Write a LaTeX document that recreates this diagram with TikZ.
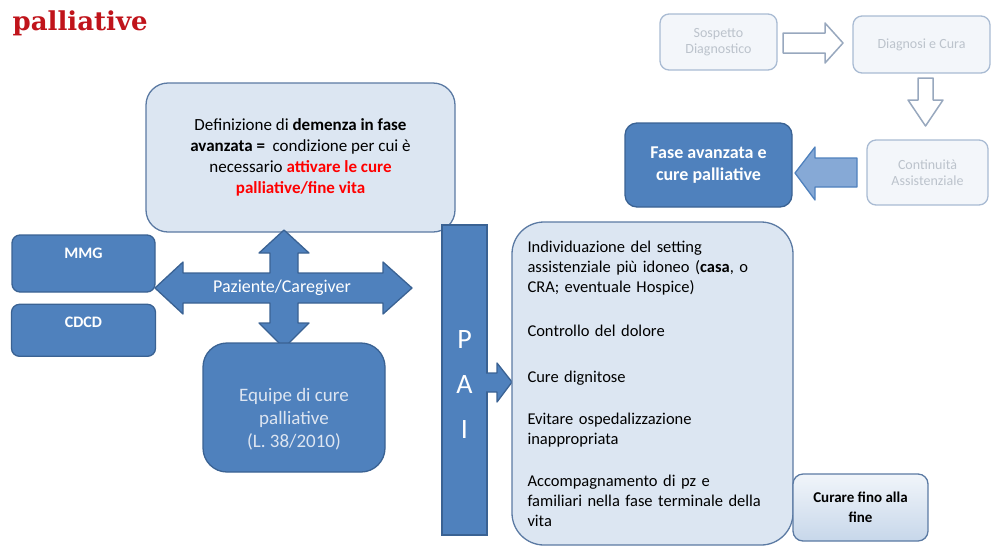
\documentclass[tikz,border=0pt]{standalone}
\usepackage{fontspec}
\setmainfont{Carlito}
\newfontfamily\titlefont{DejaVu Serif}
\usetikzlibrary{positioning}
\definecolor{boxblue}{HTML}{4F81BD}
\definecolor{boxline}{HTML}{3A6293}
\definecolor{lightfill}{HTML}{DCE6F2}
\definecolor{lightline}{HTML}{5B7AA3}
\definecolor{fadefill}{HTML}{F3F6FA}
\definecolor{fadeline}{HTML}{A9BBD3}
\definecolor{fadetext}{HTML}{BCC3CC}
\definecolor{arrowfill}{HTML}{86A9D6}
\definecolor{titlered}{HTML}{C0141B}
\definecolor{equipetext}{HTML}{DDE5F1}

\begin{document}
\begin{tikzpicture}[x=1pt, y=-1pt, line width=1.3pt,
    darkbox/.style = {draw=boxline, fill=boxblue, rounded corners=8pt, text=white, inner sep=0pt},
    lightbox/.style = {draw=lightline, fill=lightfill, rounded corners=22pt, inner sep=0pt},
    fadebox/.style = {draw=fadeline, fill=fadefill, rounded corners=9pt, text=fadetext,
        align=center, inner sep=0pt, font=\fontsize{14}{16}\selectfont},
    hollowarrow/.style = {draw=fadeline!90!black, fill=white, line width=1.5pt, line join=round},
    bluearrow/.style = {draw=boxline, fill=boxblue, line join=round}]
    \useasboundingbox (0,0) rectangle (992,550);

    % Titolo
    \node[anchor=base west, inner sep=0pt, text=titlered,
        font=\titlefont\bfseries\fontsize{26}{30}\selectfont] (titolo) at (12,30) {palliative};

    % Percorso in alto a destra
    \node[fadebox, minimum width=117pt, minimum height=56pt] (sosp) at (718.5,42) {Sospetto\\Diagnostico};
    \node[fadebox, minimum width=137pt, minimum height=57pt] (diag) at (921.5,44.5) {Diagnosi e Cura};
    \node[fadebox, minimum width=121pt, minimum height=65pt] (cont) at (927.5,172.5) {Continuità\\Assistenziale};
    \node[darkbox, rounded corners=12pt, minimum width=167pt, minimum height=84pt, align=center,
        font=\bfseries\fontsize{18}{22}\selectfont] (fase) at (708.5,165) {Fase avanzata e\\cure palliative};

    \draw[hollowarrow] (783,33) -- (825,33) -- (825,23) -- (843,43) -- (825,63) -- (825,53) -- (783,53) -- cycle;
    \draw[hollowarrow] (918,78) -- (933,78) -- (933,100) -- (943,100) -- (925.5,126) -- (908,100) -- (918,100) -- cycle;
    \draw[draw=boxblue, fill=arrowfill, line join=round] (857,158) -- (815,158) -- (815,147) -- (795,173)
        -- (815,200) -- (815,187) -- (857,187) -- cycle;

    % Definizione
    \node[lightbox, minimum width=309pt, minimum height=149pt, align=center,
        font=\fontsize{17}{21}\selectfont] (def) at (300.5,157.5)
        {Definizione di \textbf{demenza in fase}\\
         \textbf{avanzata =}\ \ condizione per cui è\\
         necessario \textcolor{red}{\textbf{attivare le cure}}\\
         \textcolor{red}{\textbf{palliative/fine vita}}};

    % Attori
    \node[darkbox, minimum width=143pt, minimum height=57pt,
        label={[text=white, font=\bfseries\fontsize{16}{19}\selectfont, yshift=10pt]center:MMG}] (mmg) at (83.5,263.5) {};
    \node[darkbox, minimum width=144pt, minimum height=52pt, below=11pt of mmg,
        label={[text=white, font=\bfseries\fontsize{16}{19}\selectfont, yshift=8pt]center:CDCD}] (cdcd) {};

    % Paziente/Caregiver
    \coordinate (pc) at (284,288);
    \draw[bluearrow, shift={(pc)}] (0,-58) -- (25,-35) -- (14,-35) -- (14,-15) -- (99,-15) -- (99,-26)
        -- (128,0) -- (99,26) -- (99,15) -- (14,15) -- (14,35) -- (25,35) -- (0,60) -- (-25,35)
        -- (-14,35) -- (-14,15) -- (-101,15) -- (-101,26) -- (-129,0) -- (-101,-26) -- (-101,-15)
        -- (-14,-15) -- (-14,-35) -- (-25,-35) -- cycle;
    \node[text=white, font=\fontsize{18}{20}\selectfont] (paz) at (282,288) {Paziente/Caregiver};

    \node[darkbox, rounded corners=24pt, minimum width=182pt, minimum height=129pt,
        label={[text=equipetext, align=center, font=\fontsize{19}{23}\selectfont, yshift=-12pt]center:
        Equipe di cure\\palliative\\(L. 38/2010)}] (equipe) at (294,407.5) {};

    % PAI
    \node[darkbox, rounded corners=0pt, minimum width=45pt, minimum height=310pt,
        label={[text=white, align=center, font=\fontsize{28}{45}\selectfont, yshift=-5pt]center:P\\A\\I}] (pai) at (464.5,380) {};
    \draw[bluearrow] (486,373) -- (497,373) -- (497,363) -- (512,382) -- (497,402) -- (497,392) -- (486,392);

    % Obiettivi
    \node[lightbox, rounded corners=32pt, minimum height=323pt, text width=250pt, inner xsep=15.5pt,
        align=left, font=\fontsize{16.5}{20}\selectfont] (obiettivi) at (652.5,383.5)
        {Individuazione del setting\\
         assistenziale più idoneo (\textbf{casa}, o\\
         CRA; eventuale Hospice)\\[24pt]
         Controllo del dolore\\[26pt]
         Cure dignitose\\[22pt]
         Evitare ospedalizzazione\\
         inappropriata\\[22pt]
         Accompagnamento di pz e\\
         familiari nella fase terminale della\\
         vita};

    \node[draw=lightline, top color=white!60!lightfill, bottom color=lightfill!85!boxblue, rounded corners=10pt,
        minimum width=135pt, minimum height=67pt, inner sep=0pt, align=center,
        font=\bfseries\fontsize{15}{20}\selectfont] (curare) at (860.5,507.5) {Curare fino alla\\fine};
\end{tikzpicture}
\end{document}
